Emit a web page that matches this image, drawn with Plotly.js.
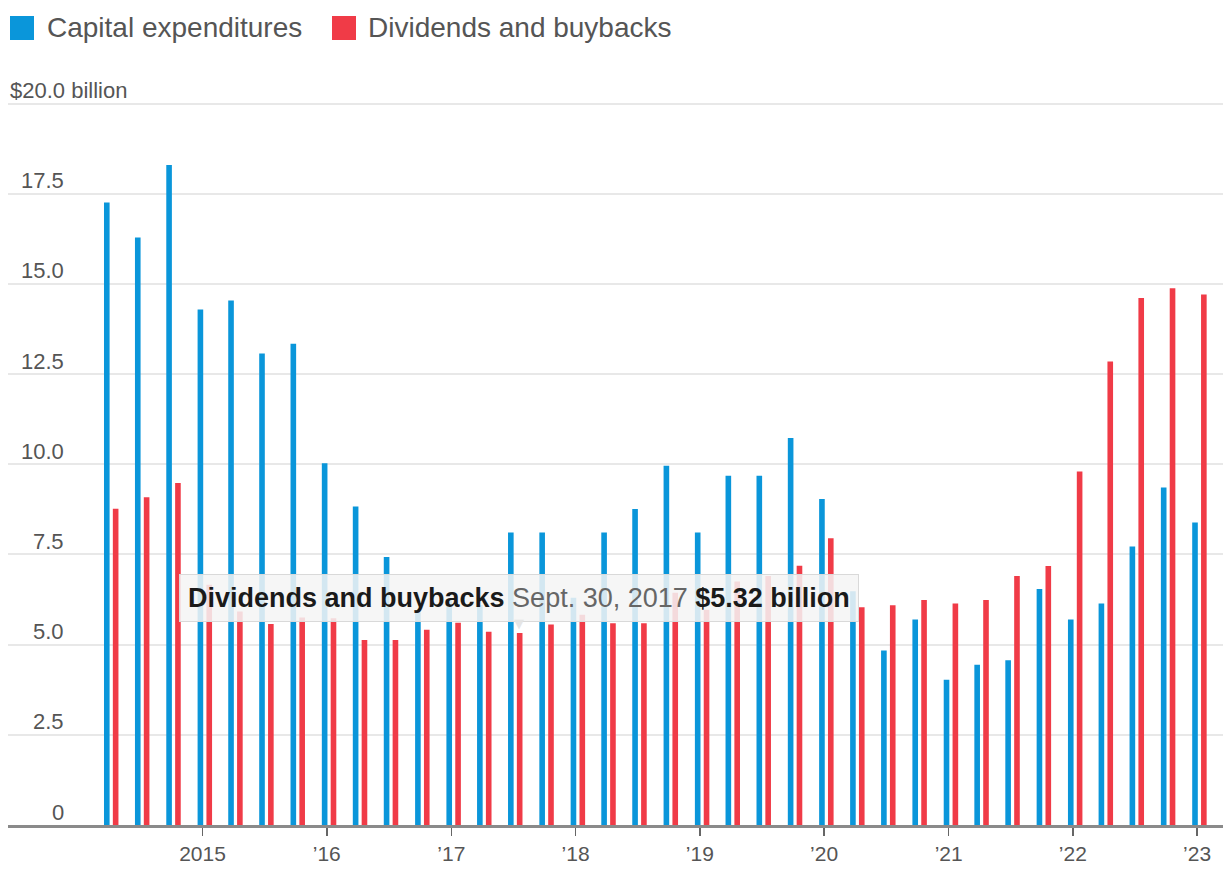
<!DOCTYPE html>
<html>
<head>
<meta charset="utf-8">
<script src="https://cdn.plot.ly/plotly-3.0.1.min.js"></script>
<style>
  html, body { margin: 0; padding: 0; background: #ffffff; }
  #chart { width: 1223px; height: 874px; }
</style>
</head>
<body>
<div id="chart"></div>
<script>
// Quarter (plotted at quarter start), Q2 2014 .. Q1 2023
const quarters = [
  '2014-04-01','2014-07-01','2014-10-01',
  '2015-01-01','2015-04-01','2015-07-01','2015-10-01',
  '2016-01-01','2016-04-01','2016-07-01','2016-10-01',
  '2017-01-01','2017-04-01','2017-07-01','2017-10-01',
  '2018-01-01','2018-04-01','2018-07-01','2018-10-01',
  '2019-01-01','2019-04-01','2019-07-01','2019-10-01',
  '2020-01-01','2020-04-01','2020-07-01','2020-10-01',
  '2021-01-01','2021-04-01','2021-07-01','2021-10-01',
  '2022-01-01','2022-04-01','2022-07-01','2022-10-01',
  '2023-01-01'
];

// $ billion
const capitalExpenditures = [
  17.26, 16.29, 18.30,
  14.29, 14.54, 13.07, 13.34,
  10.03, 8.83, 7.43, 5.90,
  6.20, 6.10, 8.11, 8.11,
  6.30, 8.11, 8.76, 9.96,
  8.11, 9.68, 9.68, 10.73,
  9.04, 6.48, 4.84, 5.70,
  4.03, 4.44, 4.57, 6.54,
  5.70, 6.14, 7.72, 9.36,
  8.39
];

const dividendsAndBuybacks = [
  8.77, 9.09, 9.48,
  6.66, 5.92, 5.57, 5.75,
  5.73, 5.13, 5.13, 5.41,
  5.61, 5.36, 5.32, 5.56,
  5.83, 5.59, 5.59, 6.44,
  5.97, 6.75, 6.90, 7.19,
  7.95, 6.04, 6.09, 6.24,
  6.14, 6.24, 6.90, 7.18,
  9.80, 12.85, 14.61, 14.88,
  14.71
];

const seriesNames = ['Capital expenditures', 'Dividends and buybacks'];
const seriesColors = ['#0a96da', '#f03b47'];

const xTickVals = ['2015-01-01','2016-01-01','2017-01-01','2018-01-01','2019-01-01',
                   '2020-01-01','2021-01-01','2022-01-01','2023-01-01'];
const xTickText = ['2015', "\u201916", "\u201917", "\u201918", "\u201919",
                   "\u201920", "\u201921", "\u201922", "\u201923"];

const yTickVals = [0, 2.5, 5, 7.5, 10, 12.5, 15, 17.5, 20];
const yTickText = ['0', '2.5', '5.0', '7.5', '10.0', '12.5', '15.0', '17.5', '$20.0 billion'];

// Highlighted point (tooltip)
const tipIndex = 13;
const tipDateLabel = 'Sept. 30, 2017';

const FONT = 'Liberation Sans, Arial, Helvetica, sans-serif';
const TEXT_GRAY = '#555555';

// bar geometry along the date axis (in ms)
const DAY = 86400000;
const BAR_W = 16.5 * DAY;

const traces = [
  {
    type: 'bar',
    name: seriesNames[0],
    x: quarters,
    y: capitalExpenditures,
    width: BAR_W,
    offset: -14.5 * DAY,
    marker: { color: seriesColors[0], line: { width: 0 } },
    showlegend: false,
    hoverinfo: 'skip'
  },
  {
    type: 'bar',
    name: seriesNames[1],
    x: quarters,
    y: dividendsAndBuybacks,
    width: BAR_W,
    offset: 11.5 * DAY,
    marker: { color: seriesColors[1], line: { width: 0 } },
    showlegend: false,
    hoverinfo: 'skip'
  }
];

// Plot-area geometry helpers (paper coordinates)
const L = 8, R = 0, T = 100, B = 49, W = 1223, H = 874;
const PW = W - L - R, PH = H - T - B;
const px = v => (v - L) / PW;          // pixel x -> paper x
const py = v => (H - B - v) / PH;      // pixel y -> paper y

const annotations = [];
const shapes = [];

// Y-axis labels sitting above the gridlines, right-aligned
yTickVals.forEach((v, i) => {
  const top = i === yTickVals.length - 1;
  annotations.push({
    xref: 'paper', yref: 'y',
    x: top ? px(9) : px(65),
    y: v,
    xanchor: top ? 'left' : 'right',
    yanchor: 'middle',
    yshift: 13,
    showarrow: false,
    text: yTickText[i],
    font: { family: FONT, size: 22, color: TEXT_GRAY },
    borderpad: 0
  });
});

// Legend (swatch + label)
const legendItems = [
  { sx0: 10, sx1: 34, tx: 46 },
  { sx0: 332, sx1: 356, tx: 367 }
];
legendItems.forEach((it, i) => {
  shapes.push({
    type: 'rect', xref: 'paper', yref: 'paper',
    x0: px(it.sx0), x1: px(it.sx1), y0: py(40), y1: py(16),
    fillcolor: seriesColors[i], line: { width: 0 }
  });
  annotations.push({
    xref: 'paper', yref: 'paper',
    x: px(it.tx), y: py(28),
    xanchor: 'left', yanchor: 'middle',
    showarrow: false,
    text: seriesNames[i],
    font: { family: FONT, size: 28, color: TEXT_GRAY },
    borderpad: 0
  });
});

// Tooltip
const tipValue = dividendsAndBuybacks[tipIndex];
annotations.push({
  xref: 'x', yref: 'y',
  x: quarters[tipIndex], y: tipValue,
  xanchor: 'center', yanchor: 'bottom',
  xshift: 6, yshift: 11,
  showarrow: false,
  text: '<b>' + seriesNames[1] + '</b> <span style="color:#666666">' + tipDateLabel +
        '</span> <b>$' + tipValue.toFixed(2) + ' billion</b>',
  font: { family: FONT, size: 27, color: '#1a1a1a' },
  bgcolor: 'rgba(244,244,244,0.86)',
  bordercolor: '#d9d9d9',
  borderwidth: 1,
  borderpad: 8
});
// tooltip pointer notch
annotations.push({
  xref: 'x', yref: 'y',
  x: quarters[tipIndex], y: tipValue,
  xanchor: 'center', yanchor: 'bottom',
  xshift: 6, yshift: 1,
  showarrow: false,
  text: '\u25BC',
  font: { family: 'DejaVu Sans, sans-serif', size: 13, color: 'rgba(228,228,228,0.95)' },
  borderpad: 0
});

const layout = {
  width: W, height: H,
  margin: { l: L, r: R, t: T, b: B, pad: 0 },
  paper_bgcolor: '#ffffff',
  plot_bgcolor: '#ffffff',
  barmode: 'overlay',
  showlegend: false,
  hovermode: false,
  font: { family: FONT, color: TEXT_GRAY },
  xaxis: {
    type: 'date',
    range: ['2013-06-08 12:00', '2023-03-18'],
    tickmode: 'array',
    tickvals: xTickVals,
    ticktext: xTickText,
    ticks: 'outside',
    ticklen: 8,
    tickwidth: 1.5,
    tickcolor: '#666666',
    tickfont: { family: FONT, size: 21, color: TEXT_GRAY },
    showgrid: false,
    zeroline: false,
    showline: true,
    linecolor: '#8a8a8a',
    linewidth: 2.5,
    fixedrange: true
  },
  yaxis: {
    range: [0, 20.1],
    tickmode: 'array',
    tickvals: yTickVals,
    showticklabels: false,
    ticks: '',
    showgrid: true,
    gridcolor: '#e8e8e8',
    gridwidth: 2,
    zeroline: false,
    showline: false,
    fixedrange: true
  },
  annotations: annotations,
  shapes: shapes
};

Plotly.newPlot('chart', traces, layout, { displayModeBar: false, staticPlot: true });
</script>
</body>
</html>
